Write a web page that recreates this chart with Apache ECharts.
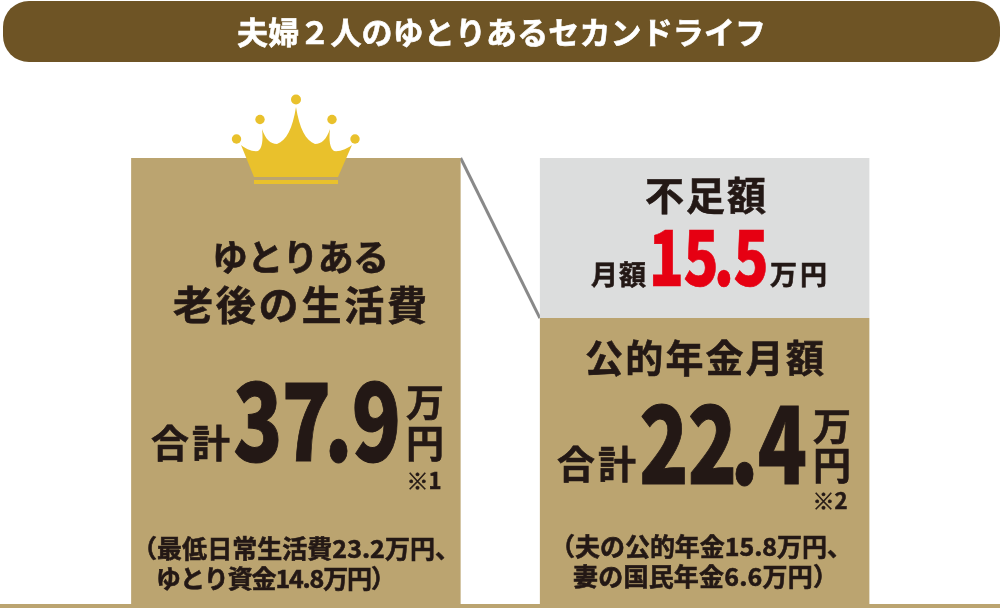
<!DOCTYPE html>
<html>
<head>
<meta charset="utf-8">
<title>夫婦2人のゆとりあるセカンドライフ</title>
<script src="https://cdn.jsdelivr.net/npm/echarts@6/dist/echarts.min.js"></script>
<style>
  html, body { margin: 0; padding: 0; background: #fff; }
  #chart { width: 1000px; height: 608px; }
</style>
</head>
<body>
<div id="chart"></div>
<script>
const categories = ["ゆとりある老後の生活費", "公的年金月額"];
// heights as drawn in the picture, which is not to scale with its printed figures
const baseHeights = [37.9, 24.3];
const gapHeights = [0, 13.6];
// figures as printed
const totalLiving = "37.9";
const totalPension = "22.4";
const shortfall = "15.5";

const FONT = '"Noto Sans CJK JP", "Noto Sans", sans-serif';
const DARK = "#231815";
const GOLD = "#bba470";
const BAR_WIDTH = 329.5;

const ctx = document.createElement("canvas").getContext("2d");
function measure(text, size, weight) {
  ctx.font = weight + " " + size + "px " + FONT;
  return ctx.measureText(text).width;
}

// spreads the characters of a line between left and right
function tracked(text, left, right, y, size, fill) {
  const chars = Array.from(text);
  const widths = chars.map(c => measure(c, size, "bold"));
  const gap = (right - left - widths.reduce((a, b) => a + b, 0)) / (chars.length - 1);
  let x = left;
  return chars.map((c, i) => {
    const color = fill || DARK;
    const el = {
      type: "text", x: x, y: y,
      style: {
        text: c, fill: color, stroke: color, lineWidth: 0.6,
        font: "bold " + size + "px " + FONT, textAlign: "left", textVerticalAlign: "middle"
      }
    };
    x += widths[i] + gap;
    return el;
  });
}

// big figures: glyph by glyph, so the dot sits tight between the digits
function figure(text, left, y, size, fill) {
  const unit = size / 112;
  const color = fill || DARK;
  const chars = Array.from(text);
  let cx = left + 23 * unit;
  return chars.map((c, i) => {
    const el = {
      type: "text", x: cx, y: y, scaleX: 0.75,
      style: {
        text: c, fill: color, stroke: color, lineWidth: 1 * unit,
        font: "900 " + Math.round(size * 0.96) + "px " + FONT, textAlign: "center", textVerticalAlign: "middle"
      }
    };
    const next = chars[i + 1];
    cx += (next === "." ? 32 : c === "." ? 38 : 48.5) * unit;
    return el;
  });
}

function small(text, cx, y, size) {
  return {
    type: "text", x: cx, y: y,
    style: {
      text: text, fill: DARK, stroke: DARK, lineWidth: 0.6,
      font: "bold " + size + "px " + FONT, textAlign: "center", textVerticalAlign: "middle"
    }
  };
}

// crown outline: start point, then [control, end] pairs of quadratic curves
const crownStart = [241, 145];
const crownCurves = [
  [250, 152, 258, 151], [264, 147, 262, 129], [267, 144, 277, 144], [291, 139, 296, 107],
  [301, 139, 315, 144], [325, 144, 330, 129], [328, 147, 334, 151], [342, 152, 352, 145]
];
function crownOutline() {
  const pts = [crownStart];
  let p = crownStart;
  crownCurves.forEach(c => {
    for (let i = 1; i <= 8; i++) {
      const t = i / 8, u = 1 - t;
      pts.push([u * u * p[0] + 2 * u * t * c[0] + t * t * c[2], u * u * p[1] + 2 * u * t * c[1] + t * t * c[3]]);
    }
    p = [c[2], c[3]];
  });
  pts.push([338, 177], [254, 177]);
  return pts;
}
const crownDots = [[296, 99.5, 5], [260, 119.5, 4.7], [332, 119.5, 4.7], [236.5, 139, 4.7], [355, 139, 4.7]];

const graphics = [
  { type: "rect", shape: { x: 3, y: 1, width: 997, height: 61, r: 26 }, style: { fill: "#6e5425" } },
  { type: "rect", shape: { x: 0, y: 604, width: 1000, height: 4 }, style: { fill: GOLD } },
  { type: "polygon", shape: { points: crownOutline() }, style: { fill: "#e9c12c" }, z: 10 },
  { type: "rect", shape: { x: 254, y: 180, width: 84, height: 4 }, style: { fill: "#e9c12c" }, z: 10 }
];
crownDots.forEach(d => graphics.push({
  type: "circle", shape: { cx: d[0], cy: d[1], r: d[2] }, style: { fill: "#e9c12c" }, z: 10
}));

const texts = [
  ...tracked("夫婦２人のゆとりあるセカンドライフ", 237, 766, 32, 31, "#fff"),
  ...tracked("ゆとりある", 212, 389, 257, 36),
  ...tracked("老後の生活費", 173, 427, 305, 40),
  ...tracked("合計", 151, 230, 443, 38),
  ...figure(totalLiving, 235, 420, 112),
  small("万", 425, 402, 38),
  small("円", 425, 443, 38),
  small("※1", 424, 481, 22),
  ...tracked("（最低日常生活費23.2万円、", 132, 460, 548, 25),
  ...tracked("ゆとり資金14.8万円）", 156, 396, 578, 25),
  ...tracked("不足額", 645, 766, 195, 39),
  ...tracked("月額", 591, 646, 275, 27),
  ...figure(shortfall, 650, 257, 80, "#e60012"),
  ...tracked("万円", 770, 827, 275, 27),
  ...tracked("公的年金月額", 585, 824, 358, 38),
  ...tracked("合計", 557, 636, 464, 38),
  ...figure(totalPension, 641, 443, 112),
  small("万", 832, 426, 38),
  small("円", 832, 465, 38),
  small("※2", 830, 501, 22),
  ...tracked("（夫の公的年金15.8万円、", 550, 852, 546, 25),
  ...tracked("妻の国民年金6.6万円）", 573, 838, 576, 25)
];
texts.forEach(t => { t.z = 20; graphics.push(t); });

const chart = echarts.init(document.getElementById("chart"), null, { renderer: "canvas" });
chart.setOption({
  animation: false,
  backgroundColor: "#fff",
  grid: { left: 91.5, right: 91, top: 158, bottom: 4 },
  xAxis: {
    type: "category",
    data: categories,
    axisLine: { show: false },
    axisTick: { show: false },
    axisLabel: { show: false }
  },
  yAxis: { type: "value", min: 0, max: 37.9, show: false, splitLine: { show: false } },
  series: [
    {
      name: "base",
      type: "bar",
      stack: "total",
      barWidth: BAR_WIDTH,
      data: baseHeights,
      itemStyle: { color: GOLD }
    },
    {
      name: "gap",
      type: "bar",
      stack: "total",
      barWidth: BAR_WIDTH,
      data: gapHeights,
      itemStyle: { color: "#dcdddd" }
    },
    {
      // line from the corner of the tall bar to the top of the pension part
      name: "connector",
      type: "custom",
      silent: true,
      data: [[0, baseHeights[0], 1, baseHeights[1]]],
      encode: { x: [0, 2], y: [1, 3] },
      renderItem: (params, api) => {
        const a = api.coord([api.value(0), api.value(1)]);
        const b = api.coord([api.value(2), api.value(3)]);
        return {
          type: "line",
          shape: { x1: a[0] + BAR_WIDTH / 2, y1: a[1], x2: b[0] - BAR_WIDTH / 2, y2: b[1] },
          style: { stroke: "#898989", lineWidth: 3 }
        };
      }
    }
  ],
  graphic: graphics
});
</script>
</body>
</html>
